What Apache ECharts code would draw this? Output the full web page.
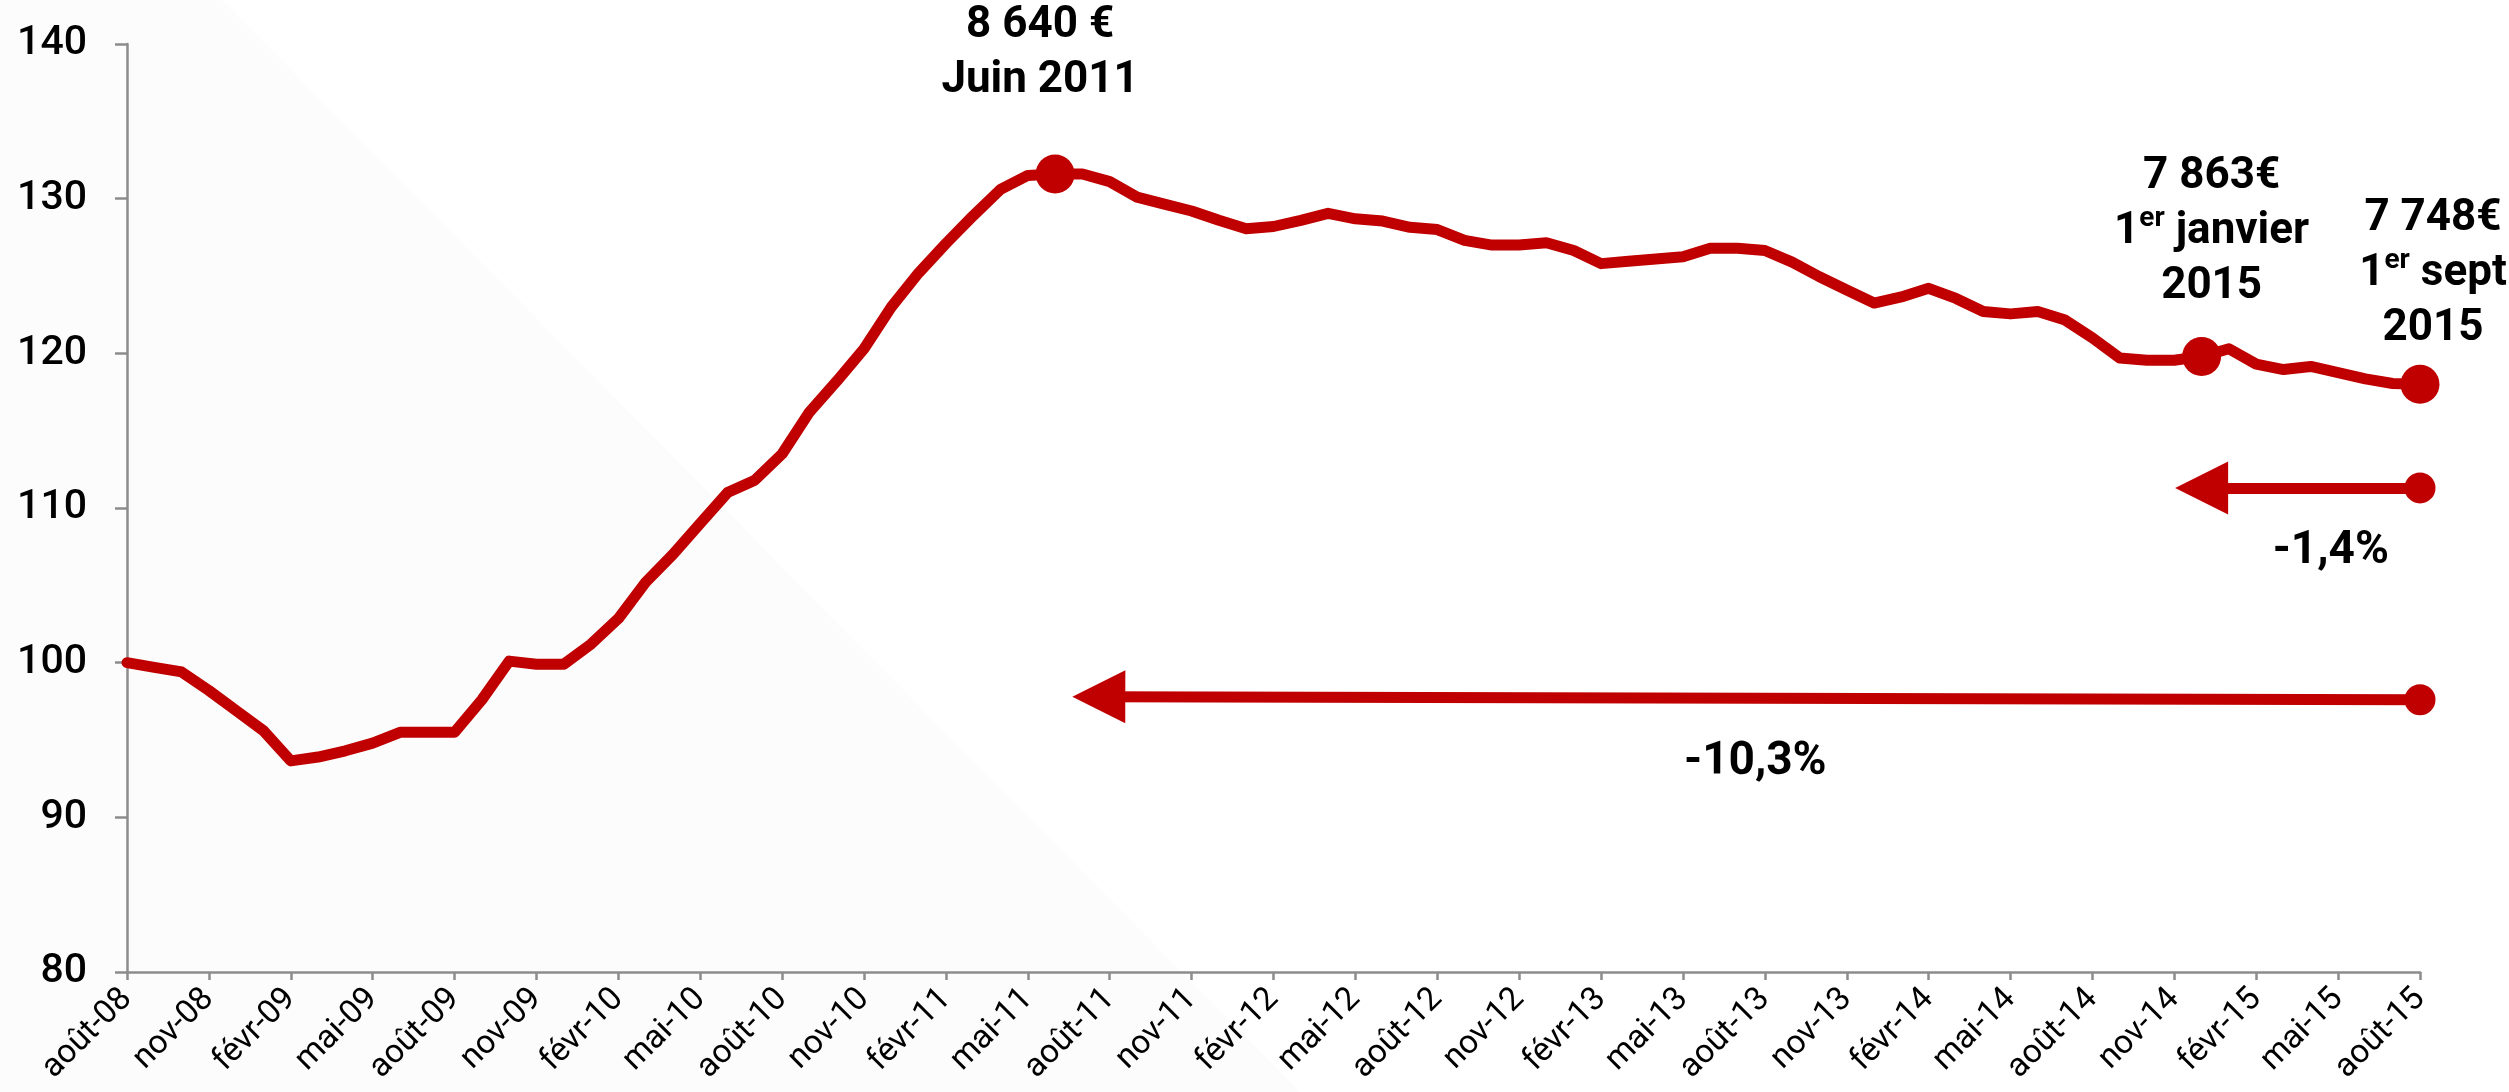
<!DOCTYPE html>
<html>
<head>
<meta charset="utf-8">
<script src="https://cdn.jsdelivr.net/npm/echarts@6/dist/echarts.min.js"></script>
<style>
  html, body { margin: 0; padding: 0; background: #ffffff; }
  #chart { width: 2509px; height: 1092px; }
</style>
</head>
<body>
<div id="chart"></div>
<script>
// Axis tick labels, one every three months (août-08 … août-15)
const tickLabels = [
  'août-08', 'nov-08', 'févr-09', 'mai-09', 'août-09', 'nov-09', 'févr-10', 'mai-10',
  'août-10', 'nov-10', 'févr-11', 'mai-11', 'août-11', 'nov-11', 'févr-12', 'mai-12',
  'août-12', 'nov-12', 'févr-13', 'mai-13', 'août-13', 'nov-13', 'févr-14', 'mai-14',
  'août-14', 'nov-14', 'févr-15', 'mai-15', 'août-15'
];

// Monthly price index (base 100 = août 2008), from août-08 to août-15
const indexValues = [
  100.0, 99.7, 99.4, 98.2, 96.9, 95.6, 93.65, 93.9, 94.3, 94.8, 95.5, 95.5,
  95.5, 97.6, 100.1, 99.9, 99.9, 101.2, 102.85, 105.2, 107.0, 109.0, 111.0, 111.8,
  113.5, 116.2, 118.2, 120.3, 123.0, 125.2, 127.1, 128.9, 130.6, 131.5, 131.6, 131.6,
  131.1, 130.1, 129.65, 129.2, 128.6, 128.05, 128.2, 128.6, 129.05, 128.7, 128.55, 128.15,
  128.0, 127.3, 127.0, 127.0, 127.15, 126.65, 125.8, 125.95, 126.1, 126.25, 126.8, 126.8,
  126.65, 125.9, 124.95, 124.1, 123.25, 123.65, 124.2, 123.55, 122.7, 122.55, 122.7, 122.15,
  121.0, 119.7, 119.55, 119.55, 119.8, 120.3, 119.3, 118.95, 119.15, 118.75, 118.35, 118.05,
  118.0
];

// Highlighted months (index into indexValues) and their annotations
const keyMonths = [34, 76, 84];
const keyLabels = [
  '8 640 €\nJuin 2011',
  '7 863€\n1{s|er} janvier\n2015',
  '7 748€\n1{s|er} sept\n2015'
];

// Variation arrows: start (arrow head) and end (dot) in [month, index] units
const arrowFrom = [[35.6, 97.8], [76, 111.3]];
const arrowTo = [[84, 97.6], [84, 111.3]];
const arrowLabels = ['-10,3%', '-1,4%'];

const RED = '#C00000';
const AXIS = '#8c8c8c';
const FONT = 'Roboto, "Noto Sans", sans-serif';

const labelPlacement = [
  { distance: 46, offset: [-15, 0] },
  { distance: 22, offset: [10, 0] },
  { distance: 8, offset: [13, 0] }
];
const arrowLabelOffset = [[-4, 0], [20, 0]];

const chart = echarts.init(document.getElementById('chart'), null, { renderer: 'canvas' });

chart.setOption({
  backgroundColor: '#ffffff',
  animation: false,
  graphic: [{
    type: 'polygon',
    z: -100,
    silent: true,
    shape: { points: [[0, 0], [222, 0], [1300, 1092], [0, 1092]] },
    style: { fill: '#fcfcfc' }
  }],
  grid: {
    left: 127, right: 89, top: 44, bottom: 120,
    containLabel: false,
    outerBoundsMode: 'none'
  },
  xAxis: {
    type: 'value',
    min: 0, max: 84, interval: 3,
    splitLine: { show: false },
    axisLine: { show: true, lineStyle: { color: AXIS, width: 2.5 } },
    axisTick: { show: true, length: 8, lineStyle: { color: AXIS, width: 2.5 } },
    axisLabel: {
      rotate: 45,
      margin: 22,
      fontSize: 33,
      color: '#000',
      fontFamily: FONT,
      showMinLabel: true,
      showMaxLabel: true,
      formatter: v => tickLabels[Math.round(v / 3)]
    }
  },
  yAxis: {
    type: 'value',
    min: 80, max: 140, interval: 10,
    splitLine: { show: false },
    axisLine: { show: true, lineStyle: { color: AXIS, width: 2.5 } },
    axisTick: { show: true, length: 12, lineStyle: { color: AXIS, width: 2.5 } },
    axisLabel: {
      margin: 40,
      fontSize: 41,
      fontWeight: 500,
      color: '#000',
      fontFamily: FONT
    }
  },
  series: [
    {
      type: 'line',
      data: indexValues.map((v, i) => [i, v]),
      showSymbol: false,
      symbol: 'none',
      lineStyle: { color: RED, width: 11, join: 'round', cap: 'round' },
      z: 3,
      silent: true
    },
    {
      type: 'scatter',
      symbol: 'circle',
      symbolSize: 39,
      itemStyle: { color: RED, opacity: 1 },
      z: 4,
      silent: true,
      data: keyMonths.map((m, i) => ({
        value: [m, indexValues[m]],
        label: {
          show: true,
          position: 'top',
          distance: labelPlacement[i].distance,
          offset: labelPlacement[i].offset,
          formatter: keyLabels[i],
          align: 'center',
          color: '#000',
          fontFamily: FONT,
          fontWeight: 'bold',
          fontSize: 44,
          lineHeight: 55,
          rich: {
            s: {
              fontFamily: FONT,
              fontWeight: 'bold',
              fontSize: 28,
              lineHeight: 30,
              color: '#000',
              verticalAlign: 'top'
            }
          }
        }
      })),
      markLine: {
        silent: true,
        animation: false,
        precision: 2,
        lineStyle: { color: RED, width: 11, type: 'solid', opacity: 1 },
        itemStyle: { color: RED },
        emphasis: { disabled: true },
        label: {
          show: true,
          position: 'insideMiddleBottom',
          distance: 41,
          color: '#000',
          fontFamily: FONT,
          fontWeight: 'bold',
          fontSize: 46,
          formatter: p => p.name
        },
        data: arrowFrom.map((f, i) => [
          {
            coord: f, name: arrowLabels[i],
            symbol: 'triangle', symbolSize: 53,
            label: { offset: arrowLabelOffset[i] }
          },
          {
            coord: arrowTo[i], name: arrowLabels[i],
            symbol: 'circle', symbolSize: 31,
            label: { offset: arrowLabelOffset[i] }
          }
        ])
      }
    }
  ]
});
</script>
</body>
</html>
